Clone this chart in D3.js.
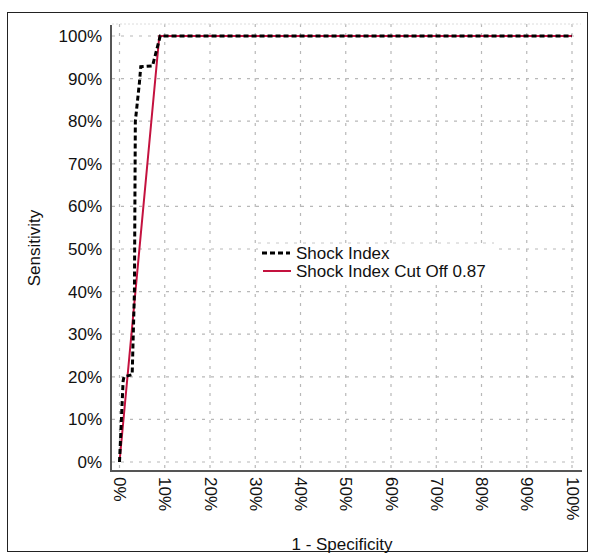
<!DOCTYPE html>
<html><head><meta charset="utf-8">
<script src="https://cdn.jsdelivr.net/npm/d3@7"></script>
<style>body{margin:0;background:#fff}svg{display:block}</style>
</head><body>
<script>
const ticks = [0,10,20,30,40,50,60,70,80,90,100];
const tickLabels = ticks.map(d => d + "%");
const shockFpr = [0, 0.8, 1.0, 2.8, 3.3, 3.5, 4.4, 4.7, 7.3, 9.0, 100];
const shockTpr = [0, 19, 20, 20.5, 40, 80, 89, 92.8, 93, 100, 100];
const cutFpr = [0, 8.8, 100];
const cutTpr = [0, 100, 100];
const seriesNames = ["Shock Index", "Shock Index Cut Off 0.87"];

const W = 592, H = 557;
const svg = d3.select("body").append("svg").attr("width", W).attr("height", H);
svg.append("rect").attr("x", 7.5).attr("y", 12.5).attr("width", 580).attr("height", 539)
  .attr("fill", "none").attr("stroke", "#222").attr("stroke-width", 1);

const x = d3.scaleLinear().domain([0, 100]).range([119.5, 572]);
const y = d3.scaleLinear().domain([0, 100]).range([462, 36]);
const font = "Arial, 'Liberation Sans', sans-serif";
const fs = 17;

// grid
const g = svg.append("g");
g.selectAll(".hg").data(ticks).join("line")
  .attr("x1", 112).attr("x2", 576).attr("y1", d => y(d)).attr("y2", d => y(d))
  .attr("stroke", "#b8b8b8").attr("stroke-width", 1.2).attr("stroke-dasharray", "3,6");
g.selectAll(".vg").data(ticks).join("line")
  .attr("y1", 24).attr("y2", 470).attr("x1", d => x(d)).attr("x2", d => x(d))
  .attr("stroke", "#b8b8b8").attr("stroke-width", 1.2).attr("stroke-dasharray", "3,6");
svg.append("line").attr("x1", 112).attr("x2", 581).attr("y1", 24).attr("y2", 24)
  .attr("stroke", "#dcdcdc").attr("stroke-width", 1).attr("stroke-dasharray", "2,2");

// axes
const yAxis = d3.axisLeft(y).tickValues(ticks).tickFormat((d, i) => tickLabels[i]).tickSize(0).tickPadding(9);
const ya = svg.append("g").attr("transform", "translate(111,0)").call(yAxis);
ya.select(".domain").remove();
ya.selectAll("text").attr("font-family", font).attr("font-size", fs).attr("fill", "#111");
svg.append("line").attr("x1", 111).attr("x2", 111).attr("y1", 25).attr("y2", 471.5)
  .attr("stroke", "#555").attr("stroke-width", 2);

const xAxis = d3.axisBottom(x).tickValues(ticks).tickFormat((d, i) => tickLabels[i]).tickSize(0);
const xa = svg.append("g").attr("transform", "translate(0,471)").call(xAxis);
xa.select(".domain").remove();
xa.selectAll("text").attr("font-family", font).attr("font-size", fs).attr("fill", "#111")
  .attr("transform", "rotate(90)").attr("text-anchor", "start")
  .attr("x", 6).attr("y", 0).attr("dy", "0.35em");
svg.append("line").attr("x1", 110).attr("x2", 582).attr("y1", 471).attr("y2", 471)
  .attr("stroke", "#555").attr("stroke-width", 2);

// titles
svg.append("text").attr("transform", "translate(40,248) rotate(-90)").attr("text-anchor", "middle")
  .attr("font-family", font).attr("font-size", fs).attr("fill", "#111").text("Sensitivity");
svg.append("text").attr("x", 342).attr("y", 550).attr("text-anchor", "middle")
  .attr("font-family", font).attr("font-size", fs).attr("fill", "#111").text("1 - Specificity");

// lines
const line = d3.line().x(d => x(d[0])).y(d => y(d[1]));
const cutData = cutFpr.map((v, i) => [v, cutTpr[i]]);
const shockData = shockFpr.map((v, i) => [v, shockTpr[i]]);
svg.append("path").datum(cutData).attr("d", line).attr("fill", "none")
  .attr("stroke", "#c4123f").attr("stroke-width", 2);
svg.append("path").datum(shockData).attr("d", line).attr("fill", "none")
  .attr("stroke", "#000").attr("stroke-width", 3).attr("stroke-dasharray", "5,3");

// legend
const lg = svg.append("g");
lg.append("rect").attr("x", 258).attr("y", 243).attr("width", 236).attr("height", 39)
  .attr("fill", "#fff");
lg.append("line").attr("x1", 258).attr("x2", 494).attr("y1", 243).attr("y2", 243)
  .attr("stroke", "#c8c8c8").attr("stroke-width", 1).attr("stroke-dasharray", "3,6");
lg.append("line").attr("x1", 262).attr("x2", 290).attr("y1", 253).attr("y2", 253)
  .attr("stroke", "#000").attr("stroke-width", 3).attr("stroke-dasharray", "5,3");
lg.append("line").attr("x1", 263).attr("x2", 291).attr("y1", 271).attr("y2", 271)
  .attr("stroke", "#c4123f").attr("stroke-width", 2);
lg.selectAll("text.l").data(seriesNames).join("text")
  .attr("x", 296).attr("y", (d, i) => 253 + i * 18).attr("dy", "0.35em")
  .attr("font-family", font).attr("font-size", fs).attr("fill", "#111").text(d => d);
</script>
</body></html>
